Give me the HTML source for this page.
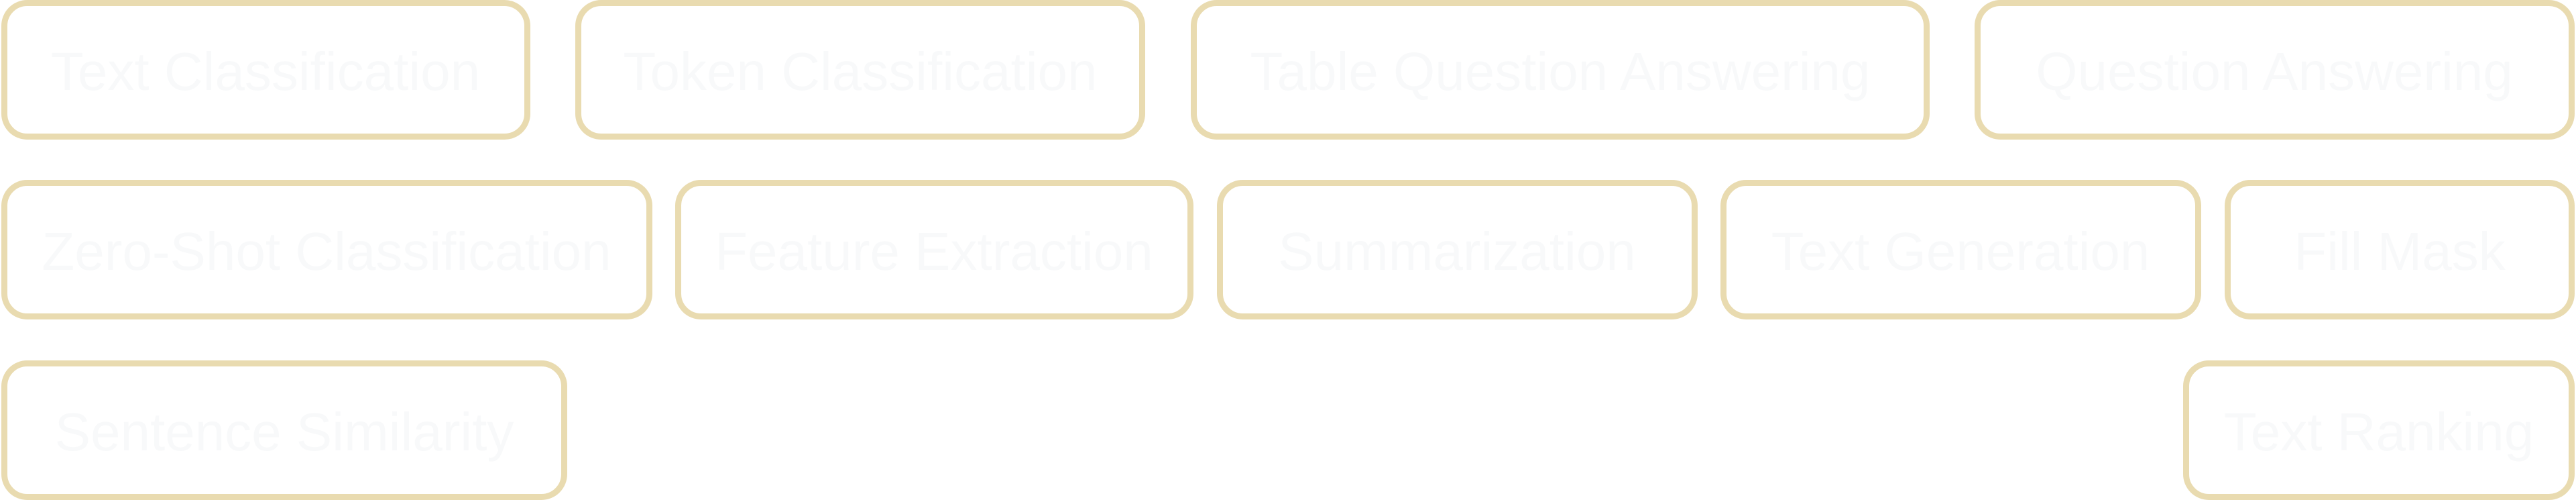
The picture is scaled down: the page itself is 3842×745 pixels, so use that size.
<!DOCTYPE html>
<html><head><meta charset="utf-8"><style>
html,body{margin:0;padding:0;background:#fff;}
svg{display:block}
text{font-family:"Liberation Sans",Arial,sans-serif;font-size:80px;fill:#f8f9fa;text-anchor:middle}
rect{fill:#fff;stroke:#e9dbb0;stroke-width:9}
</style></head><body>
<svg width="3842" height="745" viewBox="0 0 3842 745" xmlns="http://www.w3.org/2000/svg">
<g>
<rect x="6.5" y="4.5" width="780" height="199" rx="34"/><text x="396" y="134">Text Classification</text>
<rect x="862.5" y="4.5" width="841" height="199" rx="34"/><text x="1283" y="134">Token Classification</text>
<rect x="1780.5" y="4.5" width="1093" height="199" rx="34"/><text x="2327" y="134">Table Question Answering</text>
<rect x="2949.5" y="4.5" width="886" height="199" rx="34"/><text x="3392" y="134">Question Answering</text>

<rect x="6.5" y="272.5" width="962" height="199" rx="34"/><text x="487" y="402">Zero-Shot Classification</text>
<rect x="1011.5" y="272.5" width="764" height="199" rx="34"/><text x="1393" y="402">Feature Extraction</text>
<rect x="1819.5" y="272.5" width="708" height="199" rx="34"/><text x="2173" y="402">Summarization</text>
<rect x="2570.5" y="272.5" width="708" height="199" rx="34"/><text x="2924" y="402">Text Generation</text>
<rect x="3322.5" y="272.5" width="513" height="199" rx="34"/><text x="3579" y="402">Fill Mask</text>

<rect x="6.5" y="541.5" width="835" height="199" rx="34"/><text x="424" y="671">Sentence Similarity</text>
<rect x="3260.5" y="541.5" width="575" height="199" rx="34"/><text x="3548" y="671">Text Ranking</text>
</g>
</svg>
</body></html>
